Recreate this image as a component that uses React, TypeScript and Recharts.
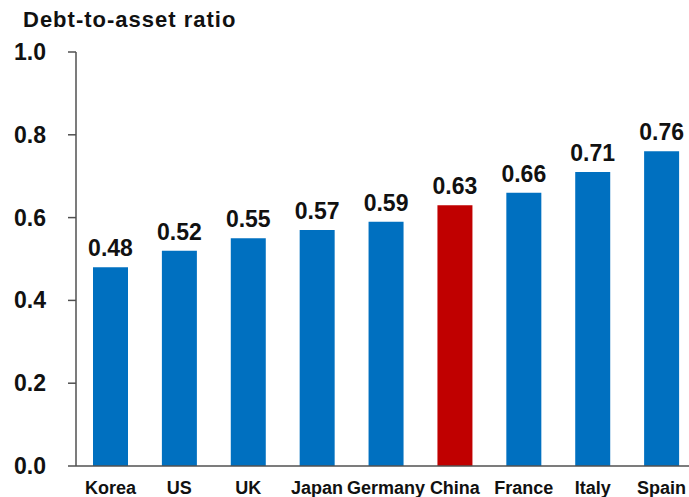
import React from "react";
import { BarChart, Bar, XAxis, YAxis, Cell, LabelList } from "recharts";

const categories = ["Korea", "US", "UK", "Japan", "Germany", "China", "France", "Italy", "Spain"];
const ratios = [0.48, 0.52, 0.55, 0.57, 0.59, 0.63, 0.66, 0.71, 0.76];
const highlight = "China";
const yTicks = [0, 0.2, 0.4, 0.6, 0.8, 1.0];
const title = "Debt-to-asset ratio";

const data = categories.map((c, i) => ({ name: c, value: ratios[i] }));

const FONT = "'Liberation Sans', Arial, Helvetica, sans-serif";
const BLUE = "#0070C0";
const RED = "#C00000";
const AXIS = "#505050";

const YTick = (props: any) => {
  const { x, y, payload } = props;
  return (
    <text x={x} y={y + 8} textAnchor="end" fontFamily={FONT} fontWeight="bold" fontSize={23} fill="#111">
      {Number(payload.value).toFixed(1)}
    </text>
  );
};

const XTick = (props: any) => {
  const { x, y, payload } = props;
  return (
    <text x={x} y={y + 28} textAnchor="middle" fontFamily={FONT} fontWeight="bold" fontSize={18} fill="#111">
      {payload.value}
    </text>
  );
};

const ValueLabel = (props: any) => {
  const { x, y, width, value } = props;
  return (
    <text x={x + width / 2} y={y - 11} textAnchor="middle" fontFamily={FONT} fontWeight="bold" fontSize={23} fill="#111">
      {Number(value).toFixed(2)}
    </text>
  );
};

export default function App() {
  return (
    <div style={{ position: "absolute", left: 0, top: 0, width: 689, height: 497, overflow: "hidden", background: "#fff" }}>
      <svg width={300} height={40} style={{ position: "absolute", left: 0, top: 0 }}>
        <text x={23} y={27} fontFamily={FONT} fontWeight="bold" fontSize={22} letterSpacing={1} fill="#111">
          {title}
        </text>
      </svg>
      <BarChart
        width={697}
        height={497}
        data={data}
        margin={{ top: 52, right: 1, bottom: 1, left: 0 }}
        barSize={35}
        style={{ overflow: "visible" }}
      >
        <XAxis
          dataKey="name"
          interval={0}
          tickLine={false}
          tickSize={0}
          tickMargin={0}
          axisLine={{ stroke: AXIS, strokeWidth: 1.5 }}
          tick={<XTick />}
          height={30}
        />
        <YAxis
          domain={[0, 1]}
          ticks={yTicks}
          width={76}
          tickSize={8}
          tickMargin={22}
          tickLine={{ stroke: AXIS, strokeWidth: 1.5 }}
          axisLine={{ stroke: AXIS, strokeWidth: 1.5 }}
          tick={<YTick />}
          interval={0}
        />
        <Bar dataKey="value" isAnimationActive={false}>
          {data.map((d) => (
            <Cell key={d.name} fill={d.name === highlight ? RED : BLUE} />
          ))}
          <LabelList dataKey="value" content={<ValueLabel />} />
        </Bar>
      </BarChart>
    </div>
  );
}
